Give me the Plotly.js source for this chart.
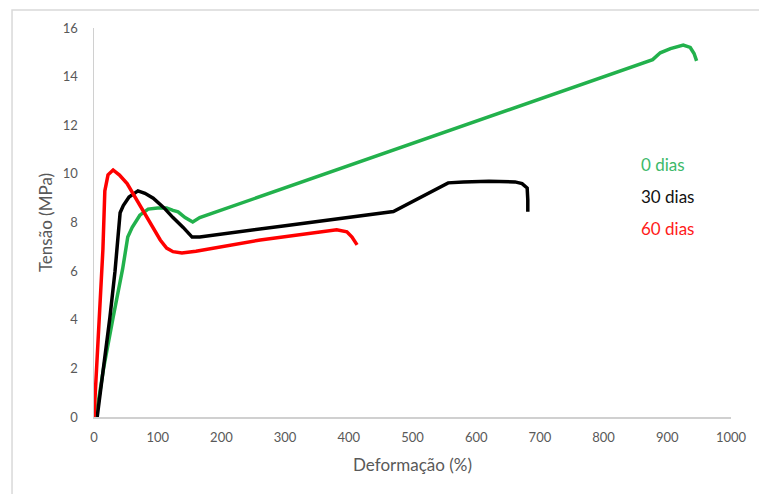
<!DOCTYPE html>
<html>
<head>
<meta charset="utf-8">
<script src="https://cdn.plot.ly/plotly-3.0.1.min.js"></script>
<style>html,body{margin:0;padding:0;background:#fff;}#chart{width:759px;height:494px;}</style>
</head>
<body>
<div id="chart"></div>
<script>
// 0 dias
const x0dias = [3, 15, 30, 45, 53, 60, 72, 85, 100, 114, 124, 132, 143, 155, 166, 300, 449, 600, 750, 877, 889, 905, 925, 936, 942, 946];
const y0dias = [0, 2.0, 4.1, 6.1, 7.4, 7.8, 8.3, 8.55, 8.6, 8.6, 8.5, 8.44, 8.2, 8.02, 8.2, 9.42, 10.79, 12.17, 13.54, 14.7, 14.98, 15.15, 15.3, 15.2, 14.95, 14.65];
// 30 dias
const x30dias = [5, 15, 25, 33, 38, 41, 46, 55, 69, 80, 93, 110, 124, 140, 154, 166, 300, 470, 556, 580, 620, 661, 672, 680, 681, 681];
const y30dias = [0, 2.0, 4.1, 6.0, 7.6, 8.4, 8.7, 9.05, 9.3, 9.2, 9.0, 8.6, 8.2, 7.8, 7.4, 7.4, 7.87, 8.45, 9.63, 9.67, 9.7, 9.67, 9.6, 9.42, 8.93, 8.44];
// 60 dias
const x60dias = [0, 4, 9.4, 14, 17, 22, 30, 40, 52, 70, 90, 104, 114, 124, 138, 160, 261, 381, 397, 405, 413];
const y60dias = [0, 2.0, 4.1, 6.9, 9.3, 9.96, 10.16, 9.95, 9.6, 8.8, 7.9, 7.28, 6.95, 6.8, 6.75, 6.82, 7.28, 7.7, 7.62, 7.4, 7.08];

const seriesNames = ['0 dias', '30 dias', '60 dias'];
const seriesColors = ['#22b14c', '#000000', '#ff0000'];
const labelColors = ['#3cb96a', '#111111', '#ff1a1a'];
const xTicks = [0, 100, 200, 300, 400, 500, 600, 700, 800, 900, 1000];
const yTicks = [0, 2, 4, 6, 8, 10, 12, 14, 16];
const labelX = [893, 901, 901];
const labelY = [10.37, 9.05, 7.74];

const xs = [x0dias, x30dias, x60dias];
const ys = [y0dias, y30dias, y60dias];
const traces = xs.map((x, i) => ({
  x: x, y: ys[i], type: 'scatter', mode: 'lines', name: seriesNames[i],
  line: {color: seriesColors[i], width: 3.5}, hoverinfo: 'skip'
}));

const fam = 'Lato, "Open Sans", sans-serif';
const tickFont = {family: fam, size: 13, color: '#595959'};
const titleFont = {family: fam, size: 17, color: '#595959'};

const layout = {
  width: 759, height: 494,
  margin: {l: 94, r: 28, t: 28, b: 77},
  paper_bgcolor: '#fff', plot_bgcolor: '#fff',
  showlegend: false,
  font: tickFont,
  xaxis: {
    range: [0, 1000], tickvals: xTicks, ticktext: xTicks.map(String), tickfont: tickFont,
    showgrid: false, zeroline: false, showline: true, linecolor: '#d0d0d0', linewidth: 1.5,
    ticks: '', ticklabelstandoff: 8,
    title: {text: 'Deformação (%)', font: titleFont, standoff: 15}
  },
  yaxis: {
    range: [0, 16], tickvals: yTicks, ticktext: yTicks.map(String), tickfont: tickFont,
    showgrid: false, zeroline: false, showline: true, linecolor: '#d0d0d0', linewidth: 1.5,
    ticks: '', ticklabelstandoff: 12,
    title: {text: 'Tensão (MPa)', font: titleFont, standoff: 6}
  },
  annotations: seriesNames.map((n, i) => ({
    x: labelX[i], y: labelY[i], xref: 'x', yref: 'y', text: n, showarrow: false,
    font: {family: fam, size: 17, color: labelColors[i]}
  })),
  shapes: [{
    type: 'path', xref: 'paper', yref: 'paper',
    path: 'M -0.1287 -0.2 L -0.1287 1.0463 L 1.05 1.0463',
    line: {color: '#d9d9d9', width: 1.5}
  }]
};

Plotly.newPlot('chart', traces, layout, {displayModeBar: false, staticPlot: true});
</script>
</body>
</html>
